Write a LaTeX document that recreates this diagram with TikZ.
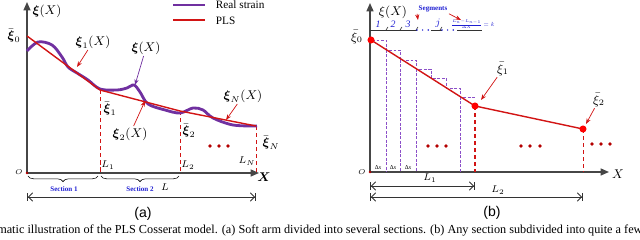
\documentclass[tikz,border=0pt]{standalone}
\usepackage{amsmath,xcolor}
\usepackage{fontspec}
\setmainfont{Liberation Serif}
\newfontfamily\panelfont{Liberation Sans}
\definecolor{plsred}{RGB}{210,20,20}
\definecolor{dotred}{RGB}{180,0,0}
\definecolor{strainpurple}{RGB}{112,48,160}
\definecolor{stepviolet}{RGB}{140,80,200}
\definecolor{segblue}{RGB}{30,30,210}
\definecolor{axisgray}{RGB}{70,70,70}
\usetikzlibrary{arrows.meta,positioning,decorations.pathreplacing,calc}

\begin{document}
\begin{tikzpicture}[x=0.025cm,y=-0.025cm,
  axis/.style={axisgray,line width=1pt,-{Triangle[length=6pt,width=5pt]}},
  pls/.style={plsred,line width=1pt},
  strain/.style={strainpurple,line width=2pt},
  guide/.style={plsred,dash pattern=on 3pt off 2pt,line width=0.7pt},
  stair/.style={stepviolet,dash pattern=on 2pt off 1.2pt,line width=0.6pt},
  pointer/.style={plsred,line width=0.5pt,-{Stealth[length=4pt,width=3pt]}},
  span/.style={black!80,line width=0.6pt,{Bar[width=5pt]Straight Barb[length=3pt]}-{Straight Barb[length=3pt]Bar[width=5pt]}},
  lbl/.style={font=\small,inner sep=1pt},
  small/.style={font=\scriptsize,inner sep=1pt},
  seg/.style={font=\tiny,text=segblue,inner sep=1pt},
  dot/.style={circle,fill=dotred,inner sep=0pt,minimum size=2.6pt},
  kink/.style={circle,fill=red,inner sep=0pt,minimum size=5pt}]
  \useasboundingbox (0,0) rectangle (640,240);
  % Panel (a): sections
  \coordinate (Oa) at (27,173);
  \coordinate (ya) at (27,2);
  \coordinate (xa) at (259,173);
  \draw[axis] (Oa) -- (ya);
  \draw[axis] (Oa) -- (xa);
  \node[dot,minimum size=2pt] (oa) at (Oa) {};
  \node[font=\tiny] (Ola) at (19,172) {$O$};
  \node[lbl] (xia) at (47,11) {$\boldsymbol{\xi}(X)$};
  \node[lbl] (Xa) at (264,177) {$\boldsymbol{X}$};
  % PLS and real strain
  \coordinate (p0) at (27,36);
  \coordinate (p1) at (100,90);
  \coordinate (p2) at (180,111);
  \coordinate (pN) at (256,126);
  \draw[guide] (p1) -- (p1 |- Oa);
  \draw[guide] (p2) -- (p2 |- Oa);
  \draw[guide] (pN) -- (pN |- Oa);
  \draw[strain] plot[smooth,tension=0.55] coordinates {(27,51) (38,42) (52,45) (62,57) (68,67) (77,73) (88,80) (100,89) (117,90) (127,88) (134,85) (140,92) (148,104) (165,110) (180,113) (193,108) (203,110) (213,118) (233,125) (257,126)};
  \draw[pls] (p0) -- (p1) -- (p2) -- (pN);
  \node[lbl] (xb0a) at (14,36) {$\bar{\boldsymbol{\xi}}_0$};
  \node[lbl] (xb1a) at (110,109) {$\bar{\boldsymbol{\xi}}_1$};
  \node[lbl] (xb2a) at (189,131) {$\bar{\boldsymbol{\xi}}_2$};
  \node[lbl] (xbNa) at (271,143) {$\bar{\boldsymbol{\xi}}_N$};
  \node[small] (L1a) at (108,165) {$L_1$};
  \node[small] (L2a) at (188,165) {$L_2$};
  \node[small] (LNa) at (247,161) {$L_N$};
  \foreach \x in {210,219,228} \node[dot] (da\x) at (\x,146) {};
  % pointers
  \node[lbl] (xi1) at (93,42) {$\boldsymbol{\xi}_1(X)$};
  \coordinate (xi1t) at (77,67);
  \draw[pointer] (xi1) -- (xi1t);
  \node[lbl] (xir) at (146,48) {$\boldsymbol{\xi}(X)$};
  \coordinate (xirt) at (135,85);
  \draw[pointer,strainpurple] (xir) -- (xirt);
  \node[lbl] (xi2) at (130,134) {$\boldsymbol{\xi}_2(X)$};
  \coordinate (xi2t) at (145,101);
  \draw[pointer] (xi2) -- (xi2t);
  \node[lbl] (xiN) at (243,96) {$\boldsymbol{\xi}_N(X)$};
  \coordinate (xiNt) at (226,120);
  \draw[pointer] (xiN) -- (xiNt);
  % legend
  \coordinate (lg1) at (173,5);
  \coordinate (lg2) at (205,5);
  \draw[strain] (lg1) -- (lg2);
  \node[font=\footnotesize,right] (lgreal) at (211,5) {Real strain};
  \coordinate (lg3) at (173,20);
  \coordinate (lg4) at (205,20);
  \draw[pls] (lg3) -- (lg4);
  \node[font=\footnotesize,right] (lgpls) at (211,21) {PLS};
  % sections
  \draw[decorate,decoration={brace,amplitude=4pt}] (98,176) -- (28,176);
  \draw[decorate,decoration={brace,amplitude=4pt}] (179,176) -- (101,176);
  \node[seg,font=\tiny\bfseries] (sec1) at (64,189) {Section 1};
  \node[seg,font=\tiny\bfseries] (sec2) at (140,189) {Section 2};
  \node[small] (La) at (165,187) {$L$};
  \coordinate (sa0) at (27,197);
  \coordinate (sa1) at (256,197);
  \draw[span] (sa0) -- (sa1);
  \node[font=\panelfont] (capa) at (143,214) {(a)};
  % Panel (b): segments
  \coordinate (Ob) at (370,172);
  \coordinate (yb) at (370,3);
  \coordinate (xb) at (609,172);
  \draw[axis] (Ob) -- (yb);
  \draw[axis] (Ob) -- (xb);
  \node[dot,minimum size=2pt] (ob) at (Ob) {};
  \node[font=\tiny] (Olb) at (362,172) {$O$};
  \node[lbl] (xib) at (393,12) {$\xi(X)$};
  \node[lbl] (Xb) at (618,174) {$X$};
  % staircase
  \draw[stair] (372,40) -- (386,40) -- (386,50) -- (400,50) -- (400,60) -- (416,60) -- (416,69) -- (431,69) -- (431,78) -- (446,78) -- (446,88) -- (460,88) -- (460,97) -- (476,97);
  \foreach \x/\h in {386/50,400/60,416/69,460/97} \draw[stair] (\x,\h) -- (\x,172);
  \foreach \x in {378,393,408} \node[font=\tiny,scale=0.85,inner sep=0pt] (dx\x) at (\x,168) {Δ\textit{x}};
  % PLS with nodes
  \coordinate (q0) at (371,40);
  \coordinate (q1) at (475,106);
  \coordinate (q2) at (583,129);
  \draw[guide,line width=1pt] (q1) -- (q1 |- Ob);
  \draw[guide] (q2) -- (q2 |- Ob);
  \draw[pls] (q0) -- (q1) -- (q2);
  \node[kink] (k0) at (q0) {};
  \node[kink] (k1) at (q1) {};
  \node[kink] (k2) at (q2) {};
  \node[lbl] (xb0b) at (357,37) {$\bar{\xi}_0$};
  \node[lbl] (xb1b) at (503,69) {$\bar{\xi}_1$};
  \coordinate (xb1t) at (481,100);
  \draw[pointer] (xb1b) -- (xb1t);
  \node[lbl] (xb2b) at (599,100) {$\bar{\xi}_2$};
  \coordinate (xb2t) at (586,124);
  \draw[pointer] (xb2b) -- (xb2t);
  \foreach \x in {428,437,446,521,530,540} \node[dot] (db\x) at (\x,146) {};
  \foreach \x in {592,601,610} \node[dot] (dc\x) at (\x,144) {};
  % segment ruler
  \coordinate (r0) at (370,30);
  \coordinate (r1) at (417,30);
  \coordinate (r2) at (431,30);
  \coordinate (r3) at (442,30);
  \coordinate (r4) at (457,30);
  \coordinate (r5) at (482,30);
  \draw[black!80,line width=0.5pt] (r0) -- (r1) (r2) -- (r3) (r4) -- (r5);
  \foreach \x in {386,400,416,440} \draw[black!80,line width=0.4pt] (\x,30) -- (\x+2,27);
  \draw[segblue,line width=1.2pt,line cap=round,dash pattern=on 0pt off 4pt] (r1) -- (r2);
  \draw[segblue,line width=1.2pt,line cap=round,dash pattern=on 0pt off 4pt] (r3) -- (r4);
  \foreach \n/\x in {1/378,2/393,3/408} \node[seg,font=\scriptsize\itshape] (s\n) at (\x,24) {\n};
  \node[seg,font=\scriptsize] (sj) at (438,23) {$j$};
  \node[seg,font=\scriptsize,scale=0.6] (sk) at (473,24) {$\frac{L_n-L_{n-1}}{\Delta X}=k$};
  \node[seg,font=\tiny\bfseries] (segs) at (433,9) {Segments};
  \coordinate (sga) at (418,20);
  \coordinate (sgb) at (461,20);
  \draw[pointer] (segs.south west) -- (sga);
  \draw[pointer] (segs.south east) -- (sgb);
  % lengths
  \coordinate (sb0) at (370,186);
  \coordinate (sb1) at (475,186);
  \draw[span] (sb0) -- (sb1);
  \node[small] (L1b) at (430,178) {$L_1$};
  \coordinate (sc0) at (370,197);
  \coordinate (sc1) at (583,197);
  \draw[span] (sc0) -- (sc1);
  \node[small] (L2b) at (498,190) {$L_2$};
  \node[font=\panelfont] (capb) at (492,213) {(b)};
  % caption (cut)
  \node[anchor=west,font=\fontsize{8.7}{10}\selectfont,inner sep=0pt] (cap) at (-3,231) {matic illustration of the PLS Cosserat model. (a) Soft arm divided into several sections. (b) Any section subdivided into quite a few};
\end{tikzpicture}
\end{document}
